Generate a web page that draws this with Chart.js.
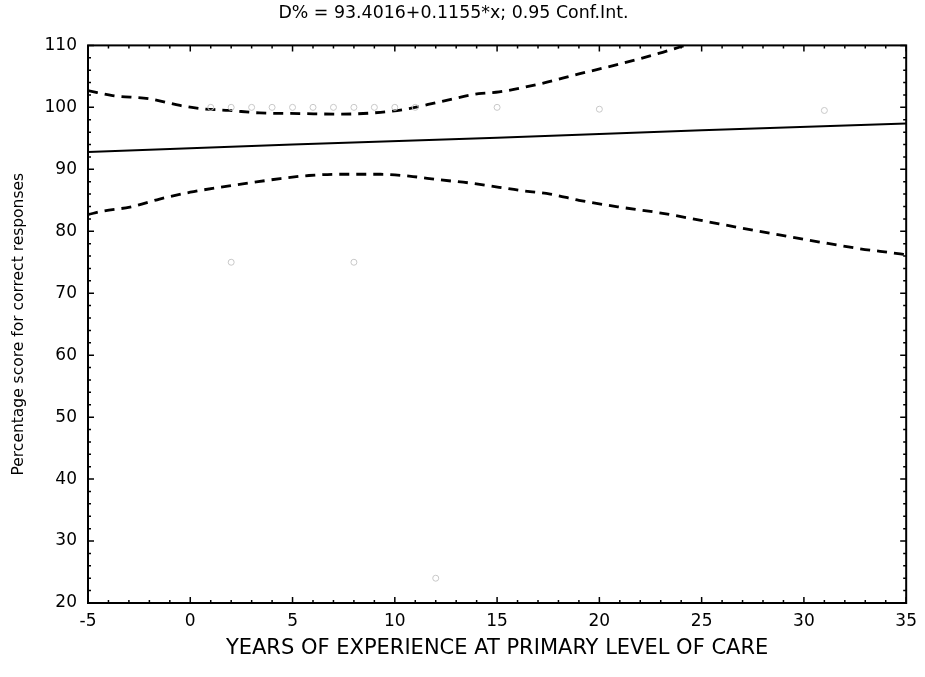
<!DOCTYPE html>
<html>
<head>
<meta charset="utf-8">
<script src="https://cdn.jsdelivr.net/npm/chart.js@4.4.1/dist/chart.umd.min.js"></script>
<style>
  html, body { margin: 0; padding: 0; background: #fff; }
  #wrap { width: 925px; height: 677px; }
</style>
</head>
<body>
<div id="wrap"><canvas id="chart" width="925" height="677"></canvas></div>
<script>
// values
const regX = [-5, 5, 15, 25, 35];
const regY = [92.8, 94.0, 95.1, 96.3, 97.4];

const upperX = [-5, -3.8, -2, -0.5, 0.5, 1.9, 3.4, 5.35, 7.3, 9.3, 10.7, 12.2, 14.1, 15.1, 17.1, 19, 21, 22.9, 23.9, 24.2];
const upperY = [102.7, 101.9, 101.4, 100.3, 99.8, 99.5, 99.1, 99.0, 98.9, 99.2, 99.8, 100.9, 102.2, 102.5, 103.8, 105.4, 107.0, 108.7, 109.7, 110];

const lowerX = [-5, -4.2, -2.95, -1.5, 0, 1.45, 2.9, 4.4, 5.8, 7.3, 9.3, 10.7, 12.2, 13.65, 15.1, 16.1, 17.6, 19, 21, 22.9, 24.9, 26.8, 28.8, 30.7, 32.7, 34.6, 35];
const lowerY = [82.7, 83.3, 83.9, 85.2, 86.3, 87.1, 87.8, 88.5, 89.0, 89.2, 89.2, 88.9, 88.3, 87.8, 87.1, 86.6, 86.0, 85.0, 83.9, 83.0, 81.8, 80.6, 79.4, 78.3, 77.2, 76.4, 76.2];

const obsX = [1, 2, 3, 4, 5, 6, 7, 8, 9, 10, 11, 15, 20, 31, 2, 8, 12];
const obsY = [100, 100, 100, 100, 100, 100, 100, 100, 100, 100, 100, 100, 99.7, 99.5, 75, 75, 24];

const xTicks = [-5, 0, 5, 10, 15, 20, 25, 30, 35];
const yTicks = [20, 30, 40, 50, 60, 70, 80, 90, 100, 110];

const toPts = (xs, ys) => xs.map((x, i) => ({ x: x, y: ys[i] }));

const FONT = "'DejaVu Sans', sans-serif";

// box round the plot and inward tick marks
const frame = {
  id: "frame",
  afterDraw(chart) {
    const ctx = chart.ctx;
    const a = chart.chartArea;
    const sx = chart.scales.x, sy = chart.scales.y;
    ctx.save();
    ctx.strokeStyle = "#000";
    ctx.lineWidth = 2;
    ctx.strokeRect(a.left, a.top, a.right - a.left, a.bottom - a.top);
    ctx.lineWidth = 1.5;
    ctx.beginPath();
    for (let v = -5; v <= 35; v += 1) {
      const px = sx.getPixelForValue(v);
      const len = v % 5 === 0 ? 6 : 3;
      ctx.moveTo(px, a.bottom); ctx.lineTo(px, a.bottom - len);
      ctx.moveTo(px, a.top); ctx.lineTo(px, a.top + len);
    }
    for (let v = 20; v <= 110; v += 2) {
      const py = sy.getPixelForValue(v);
      const len = v % 10 === 0 ? 6 : 3;
      ctx.moveTo(a.left, py); ctx.lineTo(a.left + len, py);
      ctx.moveTo(a.right, py); ctx.lineTo(a.right - len, py);
    }
    ctx.stroke();
    ctx.restore();
  }
};

new Chart(document.getElementById("chart"), {
  type: "scatter",
  data: {
    datasets: [
      {
        label: "observed",
        data: toPts(obsX, obsY),
        showLine: false,
        pointRadius: 3,
        pointBorderWidth: 1,
        borderColor: "#c8c8c8",
        backgroundColor: "rgba(0,0,0,0)"
      },
      {
        label: "fit",
        data: toPts(regX, regY),
        showLine: true,
        borderColor: "#000",
        borderWidth: 2,
        pointRadius: 0
      },
      {
        label: "upper",
        data: toPts(upperX, upperY),
        showLine: true,
        borderColor: "#000",
        borderWidth: 2.8,
        borderDash: [10, 7],
        cubicInterpolationMode: "monotone",
        pointRadius: 0
      },
      {
        label: "lower",
        data: toPts(lowerX, lowerY),
        showLine: true,
        borderColor: "#000",
        borderWidth: 2.8,
        borderDash: [10, 7],
        cubicInterpolationMode: "monotone",
        pointRadius: 0
      }
    ]
  },
  options: {
    responsive: false,
    animation: false,
    layout: { padding: { left: 0, right: 18, top: 0, bottom: 0 } },
    plugins: {
      legend: { display: false },
      tooltip: { enabled: false },
      title: {
        display: true,
        text: "D% = 93.4016+0.1155*x; 0.95 Conf.Int.",
        color: "#000",
        font: { family: FONT, size: 17.4, weight: "normal", lineHeight: 1 },
        padding: { top: 5, bottom: 23 }
      }
    },
    scales: {
      x: {
        type: "linear",
        min: -5,
        max: 35,
        afterFit(scale) { scale.height = 74; },
        afterBuildTicks(scale) { scale.ticks = xTicks.map(v => ({ value: v })); },
        grid: { display: false, drawTicks: false },
        border: { display: false },
        ticks: { color: "#000", padding: 8, maxRotation: 0, font: { family: FONT, size: 17 } },
        title: {
          display: true,
          text: "YEARS OF EXPERIENCE AT PRIMARY LEVEL OF CARE",
          color: "#000",
          font: { family: FONT, size: 21 },
          padding: { top: 0, bottom: 16 }
        }
      },
      y: {
        type: "linear",
        min: 20,
        max: 110,
        afterFit(scale) { scale.width = 88; },
        afterBuildTicks(scale) { scale.ticks = yTicks.map(v => ({ value: v })); },
        grid: { display: false, drawTicks: false },
        border: { display: false },
        ticks: { color: "#000", padding: 11, font: { family: FONT, size: 17 } },
        title: {
          display: true,
          text: "Percentage score for correct responses",
          color: "#000",
          font: { family: FONT, size: 15.5 },
          padding: { top: 10, bottom: 0 }
        }
      }
    }
  },
  plugins: [frame]
});
</script>
</body>
</html>
